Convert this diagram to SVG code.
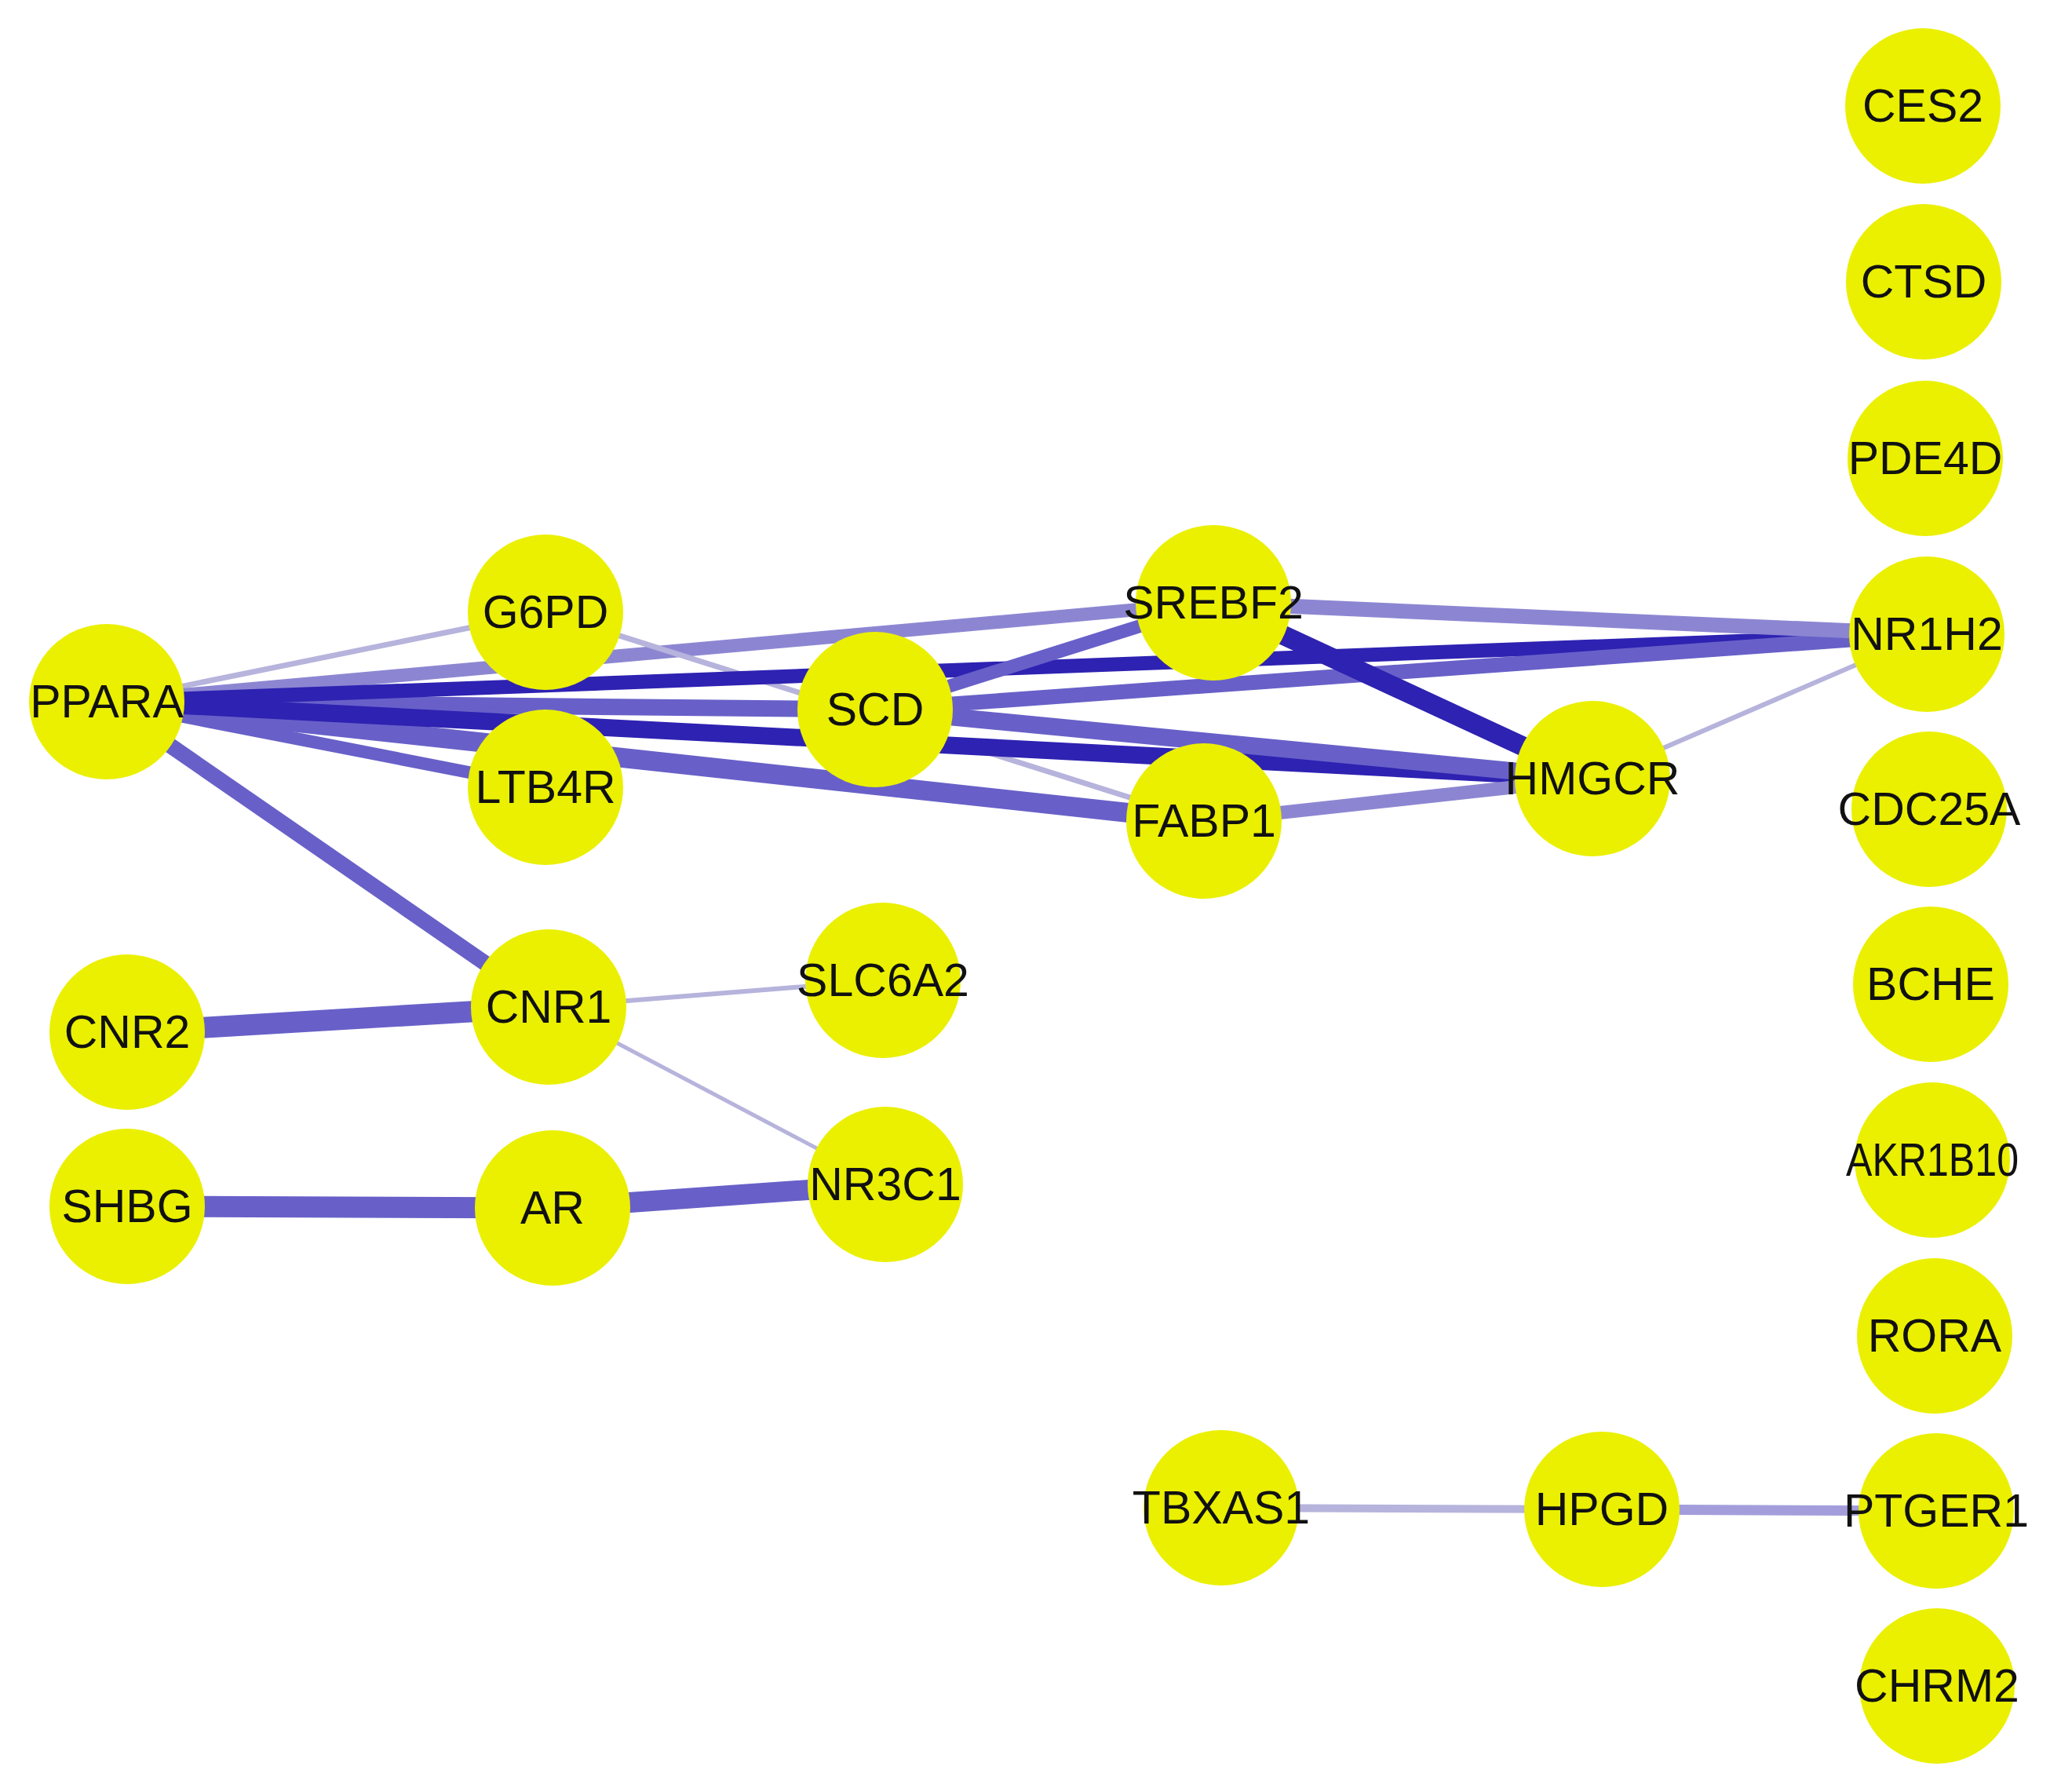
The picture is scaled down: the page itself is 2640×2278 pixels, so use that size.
<svg xmlns="http://www.w3.org/2000/svg" width="2640" height="2278" viewBox="0 0 2640 2278">
<style>
.n{fill:#EAF000}
.t{font-family:"Liberation Sans",Arial,sans-serif;font-size:59px;fill:#111;text-anchor:middle}
.e{fill:none;stroke-linecap:butt}
.d{stroke:#2E22B2}
.m{stroke:#6860C8}
.l{stroke:#8C86D2}
.f{stroke:#B6B3DC}
</style>
<rect width="2640" height="2278" fill="#fff"/>
<g id="connectors" class="e">
<line class="f" x1="136" y1="894" x2="695" y2="780" stroke-width="7"/>
<line class="l" x1="136" y1="894" x2="1546" y2="768" stroke-width="17"/>
<line class="f" x1="695" y1="780" x2="1534" y2="1046" stroke-width="7"/>
<line class="m" x1="136" y1="894" x2="695" y2="1003" stroke-width="16"/>
<line class="m" x1="136" y1="894" x2="1534" y2="1046" stroke-width="25"/>
<line class="m" x1="136" y1="894" x2="1115" y2="904" stroke-width="21"/>
<line class="d" x1="136" y1="894" x2="2029" y2="992" stroke-width="22"/>
<line class="d" x1="136" y1="894" x2="2455" y2="808" stroke-width="18"/>
<line class="m" x1="136" y1="894" x2="699" y2="1283" stroke-width="20"/>
<line class="m" x1="1115" y1="904" x2="1546" y2="768" stroke-width="17"/>
<line class="m" x1="1115" y1="904" x2="2455" y2="808" stroke-width="19"/>
<line class="m" x1="1115" y1="904" x2="2029" y2="992" stroke-width="22"/>
<line class="l" x1="1546" y1="768" x2="2455" y2="808" stroke-width="19"/>
<line class="d" x1="1546" y1="768" x2="2029" y2="992" stroke-width="25"/>
<line class="l" x1="1534" y1="1046" x2="2029" y2="992" stroke-width="17"/>
<line class="f" x1="2029" y1="992" x2="2455" y2="808" stroke-width="6"/>
<line class="m" x1="162" y1="1315" x2="699" y2="1283" stroke-width="27"/>
<line class="f" x1="699" y1="1283" x2="1125" y2="1249" stroke-width="6"/>
<line class="f" x1="699" y1="1283" x2="1128" y2="1509" stroke-width="5"/>
<line class="m" x1="162" y1="1537" x2="704" y2="1539" stroke-width="27"/>
<line class="m" x1="704" y1="1539" x2="1128" y2="1509" stroke-width="26"/>
<line class="f" x1="1556" y1="1921" x2="2041" y2="1923" stroke-width="10"/>
<line class="l" x1="2041" y1="1923" x2="2467" y2="1925" stroke-width="13" stroke-opacity="0.8"/>
</g>
<g id="PPARA"><circle class="n" cx="136" cy="894" r="99"/><text class="t" x="136" y="914">PPARA</text></g>
<g id="G6PD"><circle class="n" cx="695" cy="780" r="99"/><text class="t" x="695" y="800">G6PD</text></g>
<g id="LTB4R"><circle class="n" cx="695" cy="1003" r="99"/><text class="t" x="695" y="1023">LTB4R</text></g>
<g id="SCD"><circle class="n" cx="1115" cy="904" r="99"/><text class="t" x="1115" y="924">SCD</text></g>
<g id="SREBF2"><circle class="n" cx="1546" cy="768" r="99"/><text class="t" x="1546" y="788">SREBF2</text></g>
<g id="FABP1"><circle class="n" cx="1534" cy="1046" r="99"/><text class="t" x="1534" y="1066">FABP1</text></g>
<g id="HMGCR"><circle class="n" cx="2029" cy="992" r="99"/><text class="t" x="2029" y="1012">HMGCR</text></g>
<g id="CNR1"><circle class="n" cx="699" cy="1283" r="99"/><text class="t" x="699" y="1303">CNR1</text></g>
<g id="SLC6A2"><circle class="n" cx="1125" cy="1249" r="99"/><text class="t" x="1125" y="1269">SLC6A2</text></g>
<g id="CNR2"><circle class="n" cx="162" cy="1315" r="99"/><text class="t" x="162" y="1335">CNR2</text></g>
<g id="SHBG"><circle class="n" cx="162" cy="1537" r="99"/><text class="t" x="162" y="1557">SHBG</text></g>
<g id="AR"><circle class="n" cx="704" cy="1539" r="99"/><text class="t" x="704" y="1559">AR</text></g>
<g id="NR3C1"><circle class="n" cx="1128" cy="1509" r="99"/><text class="t" x="1128" y="1529">NR3C1</text></g>
<g id="TBXAS1"><circle class="n" cx="1556" cy="1921" r="99"/><text class="t" x="1556" y="1941">TBXAS1</text></g>
<g id="HPGD"><circle class="n" cx="2041" cy="1923" r="99"/><text class="t" x="2041" y="1943">HPGD</text></g>
<g id="CES2"><circle class="n" cx="2450" cy="135" r="99"/><text class="t" x="2450" y="155">CES2</text></g>
<g id="CTSD"><circle class="n" cx="2451" cy="359" r="99"/><text class="t" x="2451" y="379">CTSD</text></g>
<g id="PDE4D"><circle class="n" cx="2453" cy="584" r="99"/><text class="t" x="2453" y="604">PDE4D</text></g>
<g id="NR1H2"><circle class="n" cx="2455" cy="808" r="99"/><text class="t" x="2455" y="828">NR1H2</text></g>
<g id="CDC25A"><circle class="n" cx="2458" cy="1031" r="99"/><text class="t" x="2458" y="1051">CDC25A</text></g>
<g id="BCHE"><circle class="n" cx="2460" cy="1254" r="99"/><text class="t" x="2460" y="1274">BCHE</text></g>
<g id="AKR1B10"><circle class="n" cx="2462" cy="1478" r="99"/><text class="t" x="2462" y="1498" textLength="220" lengthAdjust="spacingAndGlyphs">AKR1B10</text></g>
<g id="RORA"><circle class="n" cx="2465" cy="1702" r="99"/><text class="t" x="2465" y="1722">RORA</text></g>
<g id="PTGER1"><circle class="n" cx="2467" cy="1925" r="99"/><text class="t" x="2467" y="1945">PTGER1</text></g>
<g id="CHRM2"><circle class="n" cx="2468" cy="2148" r="99"/><text class="t" x="2468" y="2168">CHRM2</text></g>
</svg>
